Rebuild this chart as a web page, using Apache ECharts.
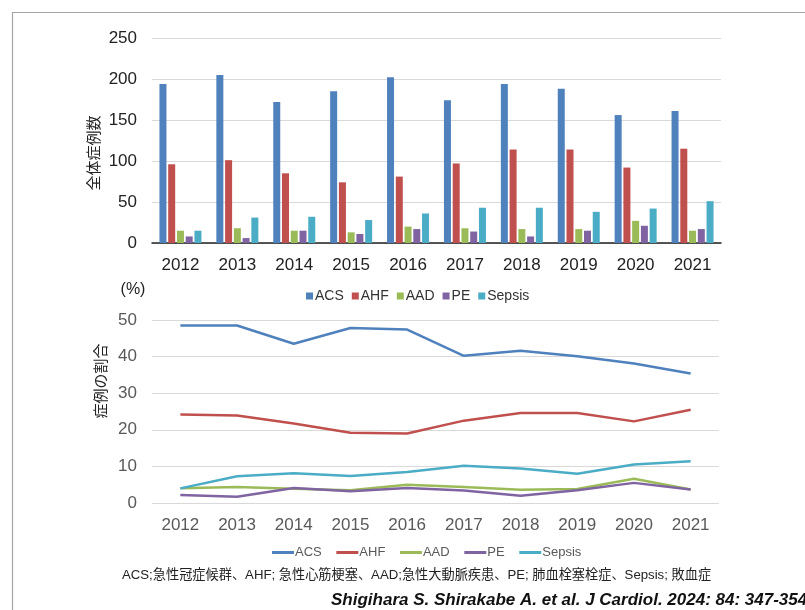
<!DOCTYPE html>
<html><head><meta charset="utf-8">
<script src="https://cdn.jsdelivr.net/npm/echarts@6/dist/echarts.min.js"></script>
<style>html,body{margin:0;padding:0;background:#fff}#c{width:805px;height:610px}</style>
</head><body><div id="c"></div>
<script>
const years = ['2012','2013','2014','2015','2016','2017','2018','2019','2020','2021'];
const seriesNames = ['ACS','AHF','AAD','PE','Sepsis'];
const colors = ['#4F81BD','#C0504D','#9BBB59','#8064A2','#4BACC6'];
// counts (top chart)
const cntACS = [194,205,172,185,202,174,194,188,156,161];
const cntAHF = [96,101,85,74,81,97,114,114,92,115];
const cntAAD = [15,18,15,13,20,18,17,17,27,15];
const cntPE = [8,6,15,11,17,14,8,15,21,17];
const cntSepsis = [15,31,32,28,36,43,43,38,42,51];
// percentages (bottom chart)
const pctACS = [48.5,48.5,43.5,47.8,47.4,40.2,41.6,40.1,38.1,35.4];
const pctAHF = [24.2,23.9,21.7,19.2,19.0,22.5,24.6,24.6,22.3,25.5];
const pctAAD = [4.0,4.4,3.9,3.5,5.0,4.4,3.6,3.8,6.6,3.7];
const pctPE = [2.2,1.7,4.1,3.2,4.1,3.4,2.0,3.5,5.5,3.7];
const pctSepsis = [4.0,7.3,8.1,7.4,8.5,10.2,9.4,8.0,10.5,11.4];
const countTicks = [0,50,100,150,200,250];
const pctTicks = [0,10,20,30,40,50];

const cnt = [cntACS,cntAHF,cntAAD,cntPE,cntSepsis];
const pct = [pctACS,pctAHF,pctAAD,pctPE,pctSepsis];
const FONT = '"Liberation Sans", Arial, sans-serif';

const chart = echarts.init(document.getElementById('c'));
const series = [];
seriesNames.forEach((n,i)=>{
  series.push({name:n,type:'bar',xAxisIndex:0,yAxisIndex:0,data:cnt[i],
    itemStyle:{color:colors[i]},barWidth:7,barGap:'25%',animation:false});
});
seriesNames.forEach((n,i)=>{
  series.push({name:n+' ',type:'line',xAxisIndex:1,yAxisIndex:1,data:pct[i],
    lineStyle:{color:colors[i],width:2.5},itemStyle:{color:colors[i]},
    symbol:'none',smooth:false,animation:false});
});

chart.setOption({
  animation:false,
  backgroundColor:'#fff',
  textStyle:{fontFamily:FONT},
  grid:[
    {left:152,right:84,top:38,height:205},
    {left:152,right:86,top:320,height:183}
  ],
  xAxis:[
    {type:'category',gridIndex:0,data:years,
     axisLine:{lineStyle:{color:'#222',width:1.5}},axisTick:{show:false},
     axisLabel:{color:'#222',fontSize:17,margin:14,fontFamily:FONT}},
    {type:'category',gridIndex:1,data:years,boundaryGap:true,
     axisLine:{show:false},axisTick:{show:false},
     axisLabel:{color:'#595959',fontSize:17,margin:14,fontFamily:FONT}}
  ],
  yAxis:[
    {type:'value',gridIndex:0,min:countTicks[0],max:countTicks[countTicks.length-1],interval:50,
     axisLine:{show:false},axisTick:{show:false},
     splitLine:{lineStyle:{color:'#d9d9d9',width:1}},
     axisLabel:{color:'#222',fontSize:17,margin:15,fontFamily:FONT}},
    {type:'value',gridIndex:1,min:pctTicks[0],max:pctTicks[pctTicks.length-1],interval:10,
     axisLine:{show:false},axisTick:{show:false},
     splitLine:{lineStyle:{color:'#d9d9d9',width:1}},
     axisLabel:{color:'#595959',fontSize:17,margin:15,fontFamily:FONT}}
  ],
  legend:[
    {data:seriesNames,left:301,top:284,itemWidth:7,itemHeight:7,itemGap:8,icon:'rect',
     textStyle:{fontSize:14,color:'#333',fontFamily:FONT,padding:[0,0,0,-3]}},
    {data:seriesNames.map(n=>n+' '),left:267,top:541,itemWidth:22,itemHeight:3,itemGap:11,
     icon:'rect',textStyle:{fontSize:13,color:'#595959',fontFamily:FONT,padding:[0,0,0,-4]}}
  ],
  graphic:[
    {type:'rect',shape:{x:12.5,y:12.5,width:900,height:700},
     style:{fill:'none',stroke:'#a6a6a6',lineWidth:1.2},silent:true},
    {type:'text',x:93,y:153,rotation:Math.PI/2,
     style:{text:'全体症例数',font:'15px "Noto Sans CJK JP"',fill:'#222',align:'center',verticalAlign:'middle'}},
    {type:'text',x:100,y:381,rotation:Math.PI/2,
     style:{text:'症例の割合',font:'15px "Noto Sans CJK JP"',fill:'#222',align:'center',verticalAlign:'middle'}},
    {type:'text',x:133,y:290,
     style:{text:'(%)',font:'16px "Liberation Sans"',fill:'#222',align:'center',verticalAlign:'middle'}},
    {type:'text',x:122,y:575,
     style:{text:'ACS;急性冠症候群、AHF; 急性心筋梗塞、AAD;急性大動脈疾患、PE; 肺血栓塞栓症、Sepsis; 敗血症',
       font:'13.2px "Liberation Sans", "Noto Sans CJK JP"',fill:'#222',verticalAlign:'middle'}},
    {type:'text',x:331,y:600,
     style:{text:'Shigihara S. Shirakabe A. et al. J Cardiol. 2024: 84: 347-354',
       font:'italic bold 17px "Liberation Sans"',fill:'#111',verticalAlign:'middle'}}
  ],
  series:series
});
</script></body></html>
